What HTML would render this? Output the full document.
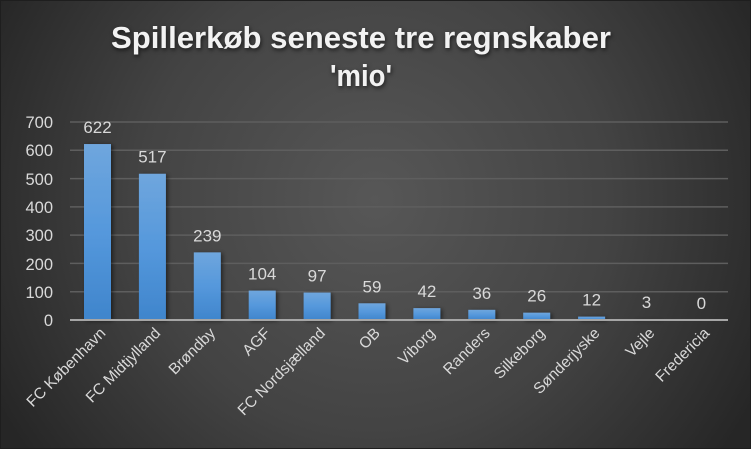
<!DOCTYPE html>
<html><head><meta charset="utf-8"><style>
html,body{margin:0;padding:0;background:#2b2b2b}
svg{display:block}
text{font-family:"Liberation Sans",sans-serif}
</style></head><body>
<svg width="751" height="449" viewBox="0 0 751 449" xmlns="http://www.w3.org/2000/svg">
<defs>
<radialGradient id="bg" cx="375" cy="200" r="430" gradientUnits="userSpaceOnUse">
<stop offset="0" stop-color="#575757"/><stop offset="0.55" stop-color="#434343"/><stop offset="1" stop-color="#262626"/>
</radialGradient>
<linearGradient id="bar" x1="0" y1="0" x2="0" y2="1">
<stop offset="0" stop-color="#6fa6dd"/><stop offset="0.5" stop-color="#5598dc"/><stop offset="1" stop-color="#3f85cc"/>
</linearGradient>
<filter id="sh" x="-30%" y="-10%" width="160%" height="130%"><feDropShadow dx="2" dy="1" stdDeviation="2" flood-color="#000" flood-opacity="0.5"/></filter>
</defs>
<rect width="751" height="449" fill="url(#bg)"/>
<rect x="0.5" y="0.5" width="750" height="448" fill="none" stroke="#1e1e1e"/>
<g fill="#f2f2f2" font-weight="bold" font-size="31" text-anchor="middle" style="filter:drop-shadow(1px 2px 2px rgba(0,0,0,0.6))">
<text x="361" y="48" textLength="500" lengthAdjust="spacingAndGlyphs">Spillerkøb seneste tre regnskaber</text>
<text x="361" y="86" textLength="62" lengthAdjust="spacingAndGlyphs">'mio'</text>
</g>
<g stroke="#5e5e5e" stroke-width="1.5">
<line x1="70" x2="728" y1="122" y2="122"/><line x1="70" x2="728" y1="150.3" y2="150.3"/>
<line x1="70" x2="728" y1="178.6" y2="178.6"/><line x1="70" x2="728" y1="206.9" y2="206.9"/>
<line x1="70" x2="728" y1="235.1" y2="235.1"/><line x1="70" x2="728" y1="263.4" y2="263.4"/>
<line x1="70" x2="728" y1="291.7" y2="291.7"/>
</g>
<g fill="#d9d9d9" font-size="16.5" text-anchor="end">
<text x="53" y="128">700</text><text x="53" y="156">600</text><text x="53" y="185">500</text>
<text x="53" y="213">400</text><text x="53" y="241">300</text><text x="53" y="270">200</text>
<text x="53" y="298">100</text><text x="53" y="326">0</text>
</g>
<g id="bars" fill="url(#bar)" filter="url(#sh)"></g>
<line x1="70" x2="728" y1="320" y2="320" stroke="#a6a6a6" stroke-width="2"/>
<g id="vals" fill="#d9d9d9" font-size="17" text-anchor="middle"></g>
<g id="cats" fill="#d9d9d9" font-size="15.5" text-anchor="end"></g>
<script>
var d=[["FC København",622],["FC Midtjylland",517],["Brøndby",239],["AGF",104],["FC Nordsjælland",97],["OB",59],["Viborg",42],["Randers",36],["Silkeborg",26],["Sønderjyske",12],["Vejle",3],["Fredericia",0]];
var ns="http://www.w3.org/2000/svg",b=document.getElementById("bars"),v=document.getElementById("vals"),c=document.getElementById("cats");
d.forEach(function(e,i){var cx=97.5+54.9*i,h=e[1]*0.2829,top=320-h;
if(h>0){var r=document.createElementNS(ns,"rect");r.setAttribute("x",cx-13.5);r.setAttribute("y",top);r.setAttribute("width",27);r.setAttribute("height",h);b.appendChild(r);}
var t=document.createElementNS(ns,"text");t.setAttribute("x",cx);t.setAttribute("y",top-11);t.textContent=e[1];v.appendChild(t);
var l=document.createElementNS(ns,"text");l.setAttribute("transform","translate("+(cx+9)+",334) rotate(-45)");l.textContent=e[0];c.appendChild(l);});
</script>
</svg>
</body></html>
